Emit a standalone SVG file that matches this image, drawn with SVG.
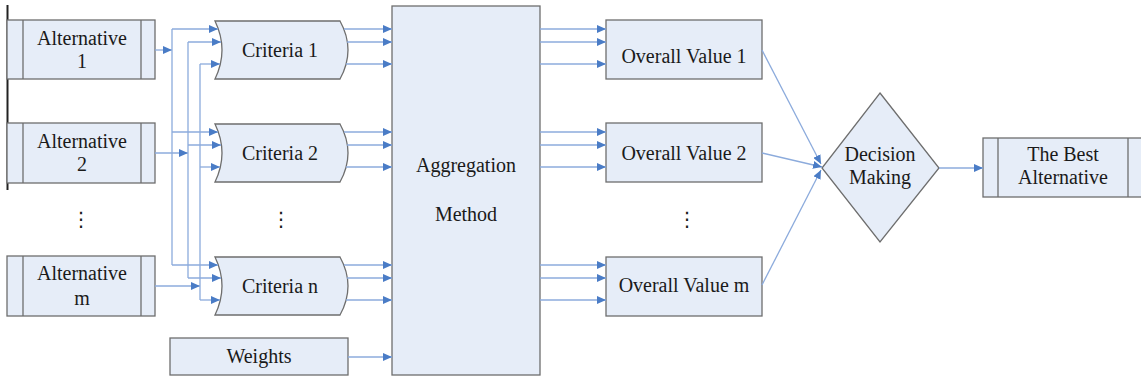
<svg xmlns="http://www.w3.org/2000/svg" width="1141" height="381" viewBox="0 0 1141 381">
<style>
.box{fill:#e6edf8;stroke:#6e6e6e;stroke-width:1.3}
.in{stroke:#6e6e6e;stroke-width:1.3;fill:none}
.t{font-family:"Liberation Serif","Times New Roman",serif;font-size:20px;fill:#1a1a1a;text-anchor:middle}
.dots{font-family:"DejaVu Sans",sans-serif;font-size:20px;fill:#1a1a1a;text-anchor:middle}
.c{stroke:#8cabdc;stroke-width:1.3;fill:none}
.a{stroke:#8cabdc;stroke-width:1.3;fill:none;marker-end:url(#ah)}
</style>
<defs>
<marker id="ah" markerUnits="userSpaceOnUse" markerWidth="10" markerHeight="8" refX="9" refY="4" orient="auto">
<path d="M0,0 L9,4 L0,8 z" fill="#4a7cc6"/>
</marker>
</defs>
<line x1="7.5" y1="5" x2="7.5" y2="190" stroke="#222" stroke-width="2"/>
<g id="alt1">
<rect class="box" x="7" y="20" width="148" height="59"/>
<line class="in" x1="23" y1="20" x2="23" y2="79"/><line class="in" x1="141" y1="20" x2="141" y2="79"/>
<text class="t" x="82" y="45">Alternative</text><text class="t" x="82" y="68">1</text>
</g>
<g id="alt2">
<rect class="box" x="7" y="123" width="148" height="60"/>
<line class="in" x1="23" y1="123" x2="23" y2="183"/><line class="in" x1="141" y1="123" x2="141" y2="183"/>
<text class="t" x="82" y="148">Alternative</text><text class="t" x="82" y="171">2</text>
</g>
<text class="dots" x="81" y="226">⋮</text>
<g id="altm">
<rect class="box" x="7" y="256" width="148" height="60"/>
<line class="in" x1="23" y1="256" x2="23" y2="316"/><line class="in" x1="141" y1="256" x2="141" y2="316"/>
<text class="t" x="82" y="280">Alternative</text><text class="t" x="82" y="305">m</text>
</g>
<g id="crit1">
<path class="box" d="M215,21 L340,21 Q356,50 340,79 L215,79 Q229,50 215,21 Z"/>
<text class="t" x="280" y="57">Criteria 1</text>
</g>
<g id="crit2">
<path class="box" d="M215,124 L340,124 Q356,153 340,182 L215,182 Q229,153 215,124 Z"/>
<text class="t" x="280" y="160">Criteria 2</text>
</g>
<text class="dots" x="281" y="226">⋮</text>
<g id="critn">
<path class="box" d="M215,257 L340,257 Q356,286 340,315 L215,315 Q229,286 215,257 Z"/>
<text class="t" x="280" y="293">Criteria n</text>
</g>
<g id="weights">
<rect class="box" x="170" y="338" width="178" height="37"/>
<text class="t" x="259" y="363">Weights</text>
</g>
<g id="aggregation">
<rect class="box" x="392" y="6" width="148" height="369"/>
<text class="t" x="466" y="172">Aggregation</text>
<text class="t" x="466" y="221">Method</text>
</g>
<g id="ov1">
<rect class="box" x="606" y="20" width="156" height="59"/>
<text class="t" x="684" y="63">Overall Value 1</text>
</g>
<g id="ov2">
<rect class="box" x="606" y="123" width="156" height="59"/>
<text class="t" x="684" y="160">Overall Value 2</text>
</g>
<text class="dots" x="687" y="226">⋮</text>
<g id="ovm">
<rect class="box" x="606" y="257" width="156" height="59"/>
<text class="t" x="684" y="292">Overall Value m</text>
</g>
<g id="decision">
<polygon class="box" points="880,93 939,168 880,242 822,168"/>
<text class="t" x="880" y="161">Decision</text>
<text class="t" x="880" y="184">Making</text>
</g>
<g id="best">
<rect class="box" x="983" y="138" width="170" height="59"/>
<line class="in" x1="998" y1="138" x2="998" y2="197"/><line class="in" x1="1128" y1="138" x2="1128" y2="197"/>
<text class="t" x="1063" y="161">The Best</text>
<text class="t" x="1063" y="184">Alternative</text>
</g>
<g id="connectors">
<path class="a" d="M155,50 H172"/>
<path class="a" d="M155,153 H188"/>
<path class="a" d="M155,286 H200"/>
<path class="c" d="M172,29 V265 M188,42 V278 M200,64 V300"/>
<path class="a" d="M172,29 H218"/>
<path class="a" d="M188,42 H221"/>
<path class="a" d="M200,64 H220"/>
<path class="a" d="M172,132 H218"/>
<path class="a" d="M188,145 H221"/>
<path class="a" d="M200,167 H220"/>
<path class="a" d="M172,265 H218"/>
<path class="a" d="M188,278 H221"/>
<path class="a" d="M200,300 H220"/>
<path class="a" d="M344,29 H392"/>
<path class="a" d="M347,42 H392"/>
<path class="a" d="M346,64 H392"/>
<path class="a" d="M344,132 H392"/>
<path class="a" d="M347,145 H392"/>
<path class="a" d="M346,167 H392"/>
<path class="a" d="M344,265 H392"/>
<path class="a" d="M347,278 H392"/>
<path class="a" d="M346,300 H392"/>
<path class="a" d="M348,357 H392"/>
<path class="a" d="M540,29 H606"/>
<path class="a" d="M540,42 H606"/>
<path class="a" d="M540,64 H606"/>
<path class="a" d="M540,132 H606"/>
<path class="a" d="M540,145 H606"/>
<path class="a" d="M540,167 H606"/>
<path class="a" d="M540,265 H606"/>
<path class="a" d="M540,278 H606"/>
<path class="a" d="M540,300 H606"/>
<path class="a" d="M762,50 L821,164"/>
<path class="a" d="M762,153 L822,167"/>
<path class="a" d="M762,285 L821,170"/>
<path class="a" d="M939,168 H983"/>
</g>
</svg>
